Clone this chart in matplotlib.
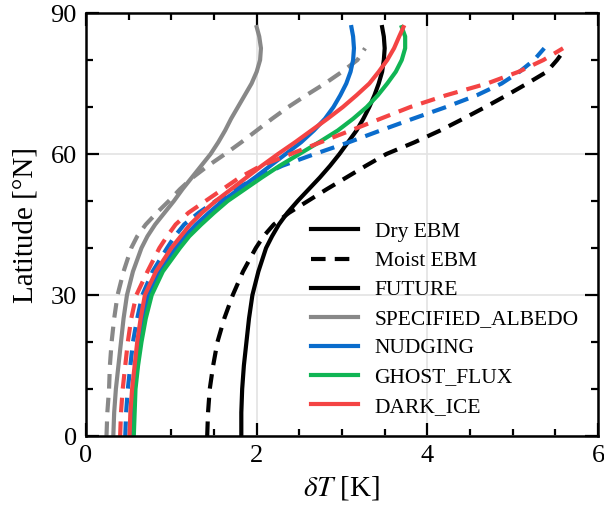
import numpy as np
import matplotlib
matplotlib.use("Agg")
import matplotlib.pyplot as plt
from matplotlib.lines import Line2D

plt.rcParams['font.family'] = ['Liberation Serif', 'DejaVu Serif']
plt.rcParams['mathtext.fontset'] = 'stix'

# latitudes [deg N]
lat_solid = [0, 5, 10, 15, 20, 25, 30, 35, 40, 42.5, 45, 47.5, 50, 52.5, 55, 57.5, 60,
             62.5, 65, 67.5, 70, 72.5, 75, 77.5, 80, 82.5, 85, 87]
lat_dash = [0, 5, 10, 15, 20, 25, 30, 35, 40, 42.5, 45, 47.5, 50, 52.5, 55, 57.5, 60,
            62.5, 65, 67.5, 70, 72.5, 75, 77.5, 80, 82.5]

# warming dT [K]
future_dry = [1.82, 1.82, 1.83, 1.85, 1.88, 1.91, 1.95, 2.02, 2.11, 2.18, 2.26, 2.36, 2.48, 2.61, 2.74,
              2.86, 2.97, 3.07, 3.17, 3.25, 3.32, 3.38, 3.43, 3.47, 3.49, 3.50, 3.49, 3.47]
future_moist = [1.42, 1.43, 1.45, 1.49, 1.54, 1.62, 1.72, 1.84, 1.99, 2.08, 2.20, 2.38, 2.60, 2.82, 3.05,
                3.28, 3.52, 3.85, 4.15, 4.42, 4.68, 4.93, 5.17, 5.40, 5.52, 5.62]
albedo_dry = [0.32, 0.33, 0.35, 0.38, 0.41, 0.44, 0.48, 0.55, 0.65, 0.72, 0.81, 0.92, 1.03, 1.13, 1.24,
              1.35, 1.46, 1.55, 1.63, 1.70, 1.78, 1.86, 1.94, 2.00, 2.04, 2.05, 2.03, 2.00]
albedo_moist = [0.24, 0.25, 0.27, 0.28, 0.30, 0.33, 0.37, 0.44, 0.53, 0.60, 0.70, 0.83, 0.97, 1.10, 1.25,
                1.43, 1.63, 1.82, 2.00, 2.18, 2.37, 2.58, 2.80, 3.00, 3.18, 3.27]
nudging_dry = [0.55, 0.56, 0.57, 0.60, 0.63, 0.67, 0.73, 0.86, 1.05, 1.16, 1.29, 1.44, 1.60, 1.79, 1.98,
               2.16, 2.34, 2.52, 2.67, 2.80, 2.90, 2.98, 3.05, 3.10, 3.13, 3.14, 3.13, 3.11]
nudging_moist = [0.46, 0.47, 0.49, 0.52, 0.55, 0.60, 0.66, 0.78, 0.95, 1.04, 1.15, 1.32, 1.52, 1.75, 2.00,
                 2.30, 2.68, 3.08, 3.45, 3.83, 4.22, 4.58, 4.87, 5.08, 5.25, 5.37]
ghost_dry = [0.56, 0.57, 0.58, 0.61, 0.65, 0.70, 0.77, 0.90, 1.10, 1.21, 1.35, 1.50, 1.66, 1.86, 2.06,
             2.27, 2.50, 2.73, 2.95, 3.13, 3.29, 3.42, 3.53, 3.63, 3.70, 3.74, 3.74, 3.70]
dark_dry = [0.51, 0.52, 0.54, 0.57, 0.60, 0.64, 0.69, 0.82, 1.00, 1.11, 1.22, 1.36, 1.52, 1.70, 1.88,
            2.06, 2.25, 2.45, 2.64, 2.83, 3.01, 3.17, 3.32, 3.43, 3.53, 3.61, 3.67, 3.72]
dark_moist = [0.40, 0.41, 0.43, 0.46, 0.49, 0.53, 0.59, 0.72, 0.86, 0.95, 1.05, 1.20, 1.40, 1.60, 1.80,
              2.05, 2.40, 2.75, 3.10, 3.45, 3.80, 4.22, 4.70, 5.07, 5.36, 5.59]

c_gray = '#888888'
c_blue = '#0A6CCC'
c_green = '#10B554'
c_red = '#F44444'
lw = 3.0
dash = (0, (3.5, 2.2))

fig = plt.figure(figsize=(6.04, 5.08), dpi=100)
ax = fig.add_axes([0.1424, 0.1417, 0.8477, 0.8327])

ax.plot(albedo_dry, lat_solid, color=c_gray, lw=lw)
ax.plot(albedo_moist, lat_dash, color=c_gray, lw=lw, ls=dash)
ax.plot(future_dry, lat_solid, color='k', lw=lw)
ax.plot(future_moist, lat_dash, color='k', lw=lw, ls=dash)
ax.plot(nudging_dry, lat_solid, color=c_blue, lw=lw)
ax.plot(nudging_moist, lat_dash, color=c_blue, lw=lw, ls=dash)
ax.plot(ghost_dry, lat_solid, color=c_green, lw=lw)
ax.plot(dark_dry, lat_solid, color=c_red, lw=lw)
ax.plot(dark_moist, lat_dash, color=c_red, lw=lw, ls=dash)

ax.set_xlim(0, 6)
ax.set_ylim(0, 90)
ax.set_xticks([0, 2, 4, 6])
ax.set_yticks([0, 30, 60, 90])
ax.set_xticks(np.arange(0, 6.01, 0.5), minor=True)
ax.set_yticks(np.arange(0, 90.1, 10), minor=True)
ax.tick_params(which='both', direction='in', top=True, right=True, labelsize=19, width=1.6)
ax.tick_params(which='major', length=9.5, pad=6.5)
ax.tick_params(which='minor', length=5)
ax.grid(True, which='major', color='#e3e3e3', lw=1.2)
ax.set_axisbelow(True)
for s in ax.spines.values():
    s.set_linewidth(1.8)

ax.set_xlabel(r'$\delta T$ [K]', fontsize=21, labelpad=5)
ax.set_ylabel('Latitude [°N]', fontsize=21, labelpad=9)

handles = [
    Line2D([], [], color='k', lw=lw),
    Line2D([], [], color='k', lw=lw, ls=dash),
    Line2D([], [], color='k', lw=lw),
    Line2D([], [], color=c_gray, lw=lw),
    Line2D([], [], color=c_blue, lw=lw),
    Line2D([], [], color=c_green, lw=lw),
    Line2D([], [], color=c_red, lw=lw),
]
labels = ['Dry EBM', 'Moist EBM', 'FUTURE', 'SPECIFIED_ALBEDO', 'NUDGING', 'GHOST_FLUX', 'DARK_ICE']
ax.legend(handles, labels, loc='lower right', frameon=False,
          fontsize=15.5, handlelength=2.2, labelspacing=0.42, handletextpad=0.75)

fig.savefig('out.png', dpi=100)
